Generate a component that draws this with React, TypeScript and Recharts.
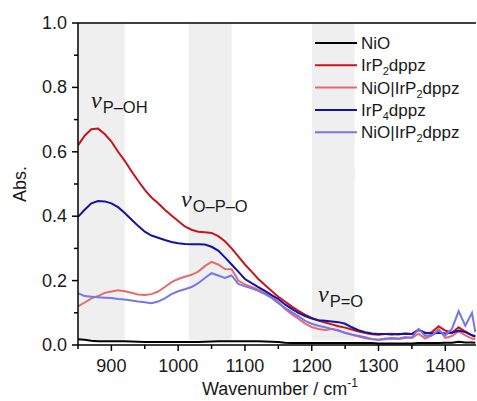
import { LineChart, Line, XAxis, YAxis, ReferenceArea, ReferenceLine } from "recharts";

const wavenumbers = [
  850, 860, 870, 880, 890, 900, 910, 920, 930, 940,
  950, 960, 970, 980, 990, 1000, 1010, 1020, 1030, 1040,
  1050, 1060, 1070, 1080, 1090, 1100, 1110, 1120, 1130, 1140,
  1150, 1160, 1170, 1180, 1190, 1200, 1210, 1220, 1230, 1240,
  1250, 1260, 1270, 1280, 1290, 1300, 1310, 1320, 1330, 1340,
  1350, 1360, 1370, 1380, 1390, 1400, 1410, 1420, 1430, 1440,
  1445,
];

const nio = [
  0.018, 0.016, 0.013, 0.012, 0.012, 0.012, 0.012, 0.012, 0.011, 0.01,
  0.009, 0.009, 0.009, 0.009, 0.009, 0.009, 0.009, 0.009, 0.009, 0.01,
  0.011, 0.012, 0.012, 0.012, 0.012, 0.012, 0.012, 0.012, 0.011, 0.01,
  0.009, 0.007, 0.006, 0.006, 0.006, 0.006, 0.006, 0.006, 0.006, 0.006,
  0.006, 0.006, 0.006, 0.006, 0.006, 0.005, 0.005, 0.005, 0.005, 0.005,
  0.005, 0.006, 0.006, 0.006, 0.006, 0.007, 0.007, 0.01, 0.008, 0.008,
  0.007,
];

const irp2 = [
  0.62, 0.65, 0.67, 0.672, 0.655, 0.632, 0.6, 0.572, 0.54, 0.51,
  0.482, 0.458, 0.44, 0.42, 0.402, 0.385, 0.368, 0.358, 0.352, 0.35,
  0.348, 0.338, 0.322, 0.3, 0.275, 0.25, 0.228, 0.205, 0.186, 0.168,
  0.15, 0.135, 0.12, 0.106, 0.094, 0.084, 0.076, 0.07, 0.064, 0.058,
  0.054, 0.048, 0.042, 0.037, 0.033, 0.032, 0.034, 0.035, 0.033, 0.036,
  0.034, 0.048, 0.036, 0.04, 0.058, 0.045, 0.038, 0.055, 0.042, 0.03,
  0.025,
];

const nioIrp2 = [
  0.12, 0.132, 0.145, 0.152, 0.162, 0.166, 0.17, 0.167, 0.162, 0.157,
  0.155, 0.158, 0.166, 0.18, 0.195, 0.205, 0.212, 0.218, 0.228, 0.245,
  0.258, 0.25, 0.236, 0.235, 0.2, 0.188, 0.18, 0.172, 0.162, 0.15,
  0.134, 0.112, 0.096, 0.082, 0.066, 0.056, 0.05, 0.047, 0.05, 0.046,
  0.037, 0.032, 0.026, 0.021, 0.018, 0.016, 0.02, 0.022, 0.02, 0.025,
  0.022, 0.035, 0.02, 0.03, 0.05, 0.022, 0.028, 0.042, 0.03, 0.02,
  0.018,
];

const irp4 = [
  0.398, 0.42, 0.44, 0.447, 0.446, 0.44, 0.428, 0.41, 0.39, 0.37,
  0.352, 0.34, 0.333, 0.326, 0.32, 0.316, 0.314, 0.313, 0.313, 0.312,
  0.305, 0.293, 0.272, 0.25, 0.228, 0.205, 0.192, 0.18, 0.168, 0.155,
  0.143, 0.126, 0.112, 0.1, 0.09, 0.082, 0.077, 0.075, 0.073, 0.071,
  0.066, 0.055, 0.046, 0.04, 0.036, 0.034, 0.034, 0.033, 0.034, 0.035,
  0.034, 0.046, 0.038, 0.035, 0.038, 0.036, 0.038, 0.045, 0.04, 0.03,
  0.028,
];

const nioIrp2b = [
  0.161, 0.152, 0.15, 0.148, 0.147, 0.146, 0.143, 0.141, 0.138, 0.135,
  0.133, 0.13, 0.135, 0.145, 0.158, 0.167, 0.173, 0.18, 0.192, 0.208,
  0.223, 0.216, 0.208, 0.216, 0.19, 0.182, 0.176, 0.168, 0.158, 0.146,
  0.13, 0.115, 0.102, 0.09, 0.075, 0.066, 0.06, 0.055, 0.05, 0.044,
  0.038, 0.033, 0.029, 0.024, 0.019, 0.016, 0.018, 0.02, 0.019, 0.022,
  0.024, 0.05, 0.028, 0.03, 0.045, 0.03, 0.05, 0.105, 0.06, 0.1,
  0.04,
];

const xTicks = [850, 900, 950, 1000, 1050, 1100, 1150, 1200, 1250, 1300, 1350, 1400, 1450];
const yTicks = [0, 0.1, 0.2, 0.3, 0.4, 0.5, 0.6, 0.7, 0.8, 0.9, 1.0];

// shaded vibration bands
const bands = [
  [850, 920],
  [1016, 1080],
  [1200, 1264],
];

const series = [
  { key: "nio", name: "NiO", sub: "", rest: "", color: "#000000" },
  { key: "irp2", name: "IrP", sub: "2", rest: "dppz", color: "#c8141c" },
  { key: "nioIrp2", name: "NiO|IrP", sub: "2", rest: "dppz", color: "#e66a6e" },
  { key: "irp4", name: "IrP", sub: "4", rest: "dppz", color: "#1212a4" },
  { key: "nioIrp2b", name: "NiO|IrP", sub: "2", rest: "dppz", color: "#7676ec" },
];

const data = wavenumbers.map((w, i) => ({
  w,
  nio: nio[i],
  irp2: irp2[i],
  nioIrp2: nioIrp2[i],
  irp4: irp4[i],
  nioIrp2b: nioIrp2b[i],
}));

const font = "Liberation Sans, Arial, sans-serif";

const XTick = (props: any) => {
  const { x, y, payload } = props;
  const major = payload.value % 100 === 0;
  return (
    <g>
      <line x1={x} x2={x} y1={y} y2={y + (major ? 6 : 4)} stroke="#000" strokeWidth={1.5} />
      {major && (
        <text x={x} y={y + 27} textAnchor="middle" fontSize={18} fontFamily={font} fill="#1a1a1a">
          {payload.value}
        </text>
      )}
    </g>
  );
};

const YTick = (props: any) => {
  const { x, y, payload } = props;
  const major = Math.round(payload.value * 10) % 2 === 0;
  return (
    <g>
      <line x1={x} x2={x - (major ? 6 : 4)} y1={y} y2={y} stroke="#000" strokeWidth={1.5} />
      {major && (
        <text x={x - 11} y={y + 6} textAnchor="end" fontSize={18} fontFamily={font} fill="#1a1a1a">
          {payload.value.toFixed(1)}
        </text>
      )}
    </g>
  );
};

const Nu = ({ x, y, sub }: { x: number; y: number; sub: string }) => (
  <text x={x} y={y} fill="#1a1a1a">
    <tspan fontFamily="Liberation Serif, Times New Roman, serif" fontStyle="italic" fontSize={24}>ν</tspan>
    <tspan fontFamily={font} fontSize={16.5} dx={1} dy={5}>{sub}</tspan>
  </text>
);

export default function App() {
  return (
    <div style={{ position: "absolute", left: 0, top: 0, width: 477, height: 401, background: "#fff" }}>
      <LineChart width={477} height={401} data={data} margin={{ top: 23, right: 1, bottom: 0, left: 0 }}>
        {bands.map(([a, b]) => (
          <ReferenceArea key={a} x1={a} x2={b} y1={0.015} y2={1} fill="#efefef" fillOpacity={1} stroke="none" />
        ))}
        <XAxis
          dataKey="w"
          type="number"
          domain={[850, 1446]}
          ticks={xTicks}
          interval={0}
          allowDataOverflow
          height={56}
          tickSize={0}
          tickMargin={0}
          tick={<XTick />}
          stroke="#000"
          strokeWidth={1.5}
        />
        <YAxis
          type="number"
          domain={[0, 1]}
          ticks={yTicks}
          interval={0}
          width={78}
          tickSize={0}
          tickMargin={0}
          tick={<YTick />}
          stroke="#000"
          strokeWidth={1.5}
        />
        <ReferenceLine y={1} stroke="#000" strokeWidth={1.5} />
        {series.map((s) => (
          <Line
            key={s.key}
            dataKey={s.key}
            type="linear"
            stroke={s.color}
            strokeWidth={2}
            dot={false}
            isAnimationActive={false}
          />
        ))}
      </LineChart>
      <svg
        width={477}
        height={401}
        style={{ position: "absolute", left: 0, top: 0, pointerEvents: "none" }}
      >
        <Nu x={91} y={108} sub="P–OH" />
        <Nu x={181} y={207} sub="O–P–O" />
        <Nu x={318} y={302} sub="P=O" />
        {series.map((s, i) => (
          <g key={s.key}>
            <line x1={315} x2={357} y1={43 + i * 22.3} y2={43 + i * 22.3} stroke={s.color} strokeWidth={2} />
            <text x={361} y={49 + i * 22.3} fontSize={17} fontFamily={font} fill="#1a1a1a">
              {s.name}
              {s.sub && (
                <tspan fontSize={11} dy={4}>{s.sub}</tspan>
              )}
              {s.rest && <tspan fontSize={17} dy={-4}>{s.rest}</tspan>}
            </text>
          </g>
        ))}
        <rect x={312} y={167} width={43} height={13} fill="#efefef" />
        <text
          transform="translate(26 184) rotate(-90)"
          textAnchor="middle"
          fontSize={18}
          fontFamily={font}
          fill="#1a1a1a"
        >
          Abs.
        </text>
        <text x={280} y={395} textAnchor="middle" fontSize={18} fontFamily={font} fill="#1a1a1a">
          Wavenumber / cm
          <tspan fontSize={12} dy={-8}>-1</tspan>
        </text>
      </svg>
    </div>
  );
}
